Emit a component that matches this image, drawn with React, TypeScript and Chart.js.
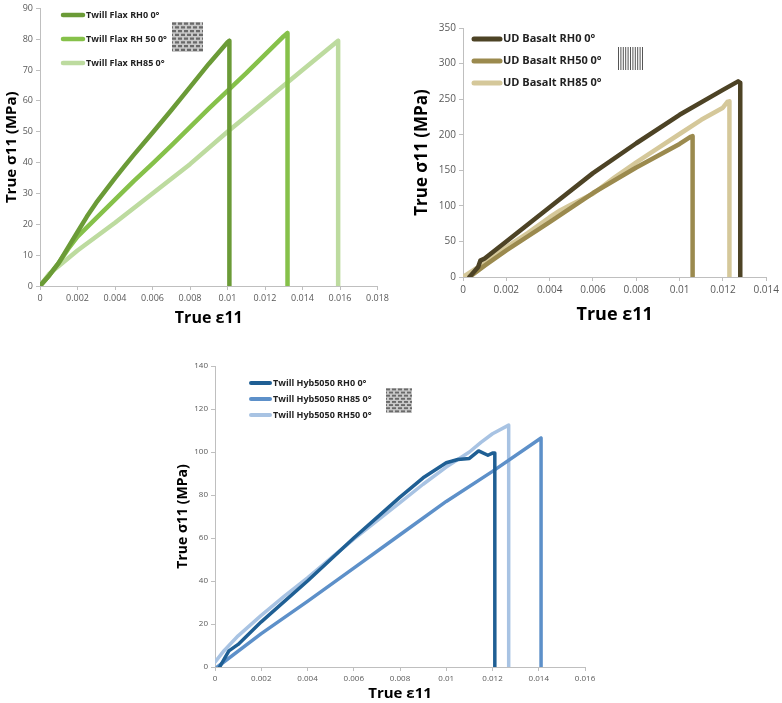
import { useEffect, useRef } from 'react';
import Chart from 'chart.js/auto';

const FONT = '"Open Sans", "Liberation Sans", sans-serif';

// Twill Flax
const flaxRH0Strain = [0, 0.0005, 0.001, 0.0015, 0.002, 0.0025, 0.003, 0.0035, 0.004, 0.0045, 0.005, 0.006, 0.007, 0.008, 0.009, 0.01, 0.0101, 0.0101];
const flaxRH0Stress = [0, 3.5, 7.5, 12.5, 17.5, 22.5, 27, 31, 35, 38.8, 42.5, 49.7, 57, 64.5, 72, 79, 79.5, 0];
const flaxRH50Strain = [0, 0.0005, 0.001, 0.0015, 0.002, 0.003, 0.004, 0.005, 0.006, 0.007, 0.008, 0.009, 0.01, 0.011, 0.012, 0.013, 0.0132, 0.0132];
const flaxRH50Stress = [0, 3.5, 7.5, 12, 16, 22, 28, 34, 39.7, 45.5, 51.5, 57.5, 63.3, 69, 75, 81, 82, 0];
const flaxRH85Strain = [0, 0.0005, 0.001, 0.002, 0.004, 0.006, 0.008, 0.01, 0.012, 0.014, 0.0158, 0.0159, 0.0159];
const flaxRH85Stress = [0, 4, 6.5, 11.5, 20.5, 30, 39.5, 50, 60, 70, 79, 79.5, 0];

// UD Basalt
const basRH0Strain = [0.0003, 0.0007, 0.0008, 0.001, 0.002, 0.004, 0.006, 0.008, 0.01, 0.012, 0.0127, 0.0128, 0.0128];
const basRH0Stress = [0, 14, 23, 26, 50, 98, 146, 188, 228, 263, 275, 273, 0];
const basRH50Strain = [0.0003, 0.001, 0.002, 0.004, 0.006, 0.008, 0.01, 0.0105, 0.0106, 0.0106];
const basRH50Stress = [0, 16, 37.5, 77, 118, 154, 187, 197, 198, 0];
const basRH85Strain = [0, 0.0005, 0.001, 0.002, 0.003, 0.004, 0.0045, 0.005, 0.006, 0.007, 0.008, 0.009, 0.01, 0.011, 0.012, 0.0122, 0.0123, 0.0123];
const basRH85Stress = [0, 10, 20, 42, 62, 84, 94, 102, 117, 140, 161, 181, 201, 221, 238, 246, 247, 0];

// Twill Hyb5050
const hybRH0Strain = [0.0002, 0.0006, 0.001, 0.002, 0.003, 0.004, 0.005, 0.006, 0.007, 0.008, 0.009, 0.0095, 0.01, 0.0105, 0.011, 0.0114, 0.0118, 0.012, 0.0121, 0.0121];
const hybRH0Stress = [0, 7.5, 10.5, 21, 30.5, 40, 50, 60, 69.5, 79, 88, 91.5, 95, 96.5, 97, 100.5, 98.5, 99.5, 99.5, 0];
const hybRH85Strain = [0.0001, 0.002, 0.004, 0.006, 0.008, 0.01, 0.012, 0.0141, 0.0141];
const hybRH85Stress = [0, 15.5, 30.5, 46, 61.5, 77, 91, 106.5, 0];
const hybRH50Strain = [0, 0.0004, 0.001, 0.002, 0.003, 0.004, 0.005, 0.006, 0.007, 0.008, 0.009, 0.01, 0.011, 0.0115, 0.012, 0.0127, 0.0127];
const hybRH50Stress = [2.3, 7.7, 14.5, 24, 33, 41.5, 50.5, 59.5, 68, 76.5, 85, 93, 100, 104.5, 108.5, 112.5, 0];

type Series = { label: string; strain: number[]; stress: number[]; color: string };

type PanelProps = {
  left: number; top: number; width: number; height: number;
  area: { left: number; top: number; right: number; bottom: number };
  xMax: number; xStep: number; yMax: number; yStep: number;
  series: Series[];
  lineWidth: number;
  tickSize: number;
  xTitleSize: number; xTitlePad: number;
  yTitleSize: number; yTitlePad: number;
  legend: { x: number; y: number; dy: number; len: number; size: number; lw: number };
  icon: { x: number; y: number; w: number; h: number; kind: 'twill' | 'ud' };
};

function drawIcon(ctx: CanvasRenderingContext2D, icon: PanelProps['icon']) {
  const { x, y, w, h, kind } = icon;
  ctx.save();
  if (kind === 'ud') {
    ctx.strokeStyle = '#555';
    ctx.lineWidth = 1;
    for (let i = 0; i <= 10; i++) {
      const px = x + (i * w) / 10 + 0.5;
      ctx.beginPath();
      ctx.moveTo(px, y);
      ctx.lineTo(px, y + h);
      ctx.stroke();
    }
  } else {
    ctx.fillStyle = '#c8c8c8';
    ctx.fillRect(x, y, w, h);
    ctx.fillStyle = '#6a6a6a';
    const rows = 8;
    const rh = h / rows;
    for (let r = 0; r < rows; r++) {
      const off = (r % 2) * 3;
      for (let c = -1; c < w / 6; c++) {
        const bx = x + c * 6 + off;
        const x0 = Math.max(x, bx);
        const x1 = Math.min(x + w, bx + 4);
        if (x1 > x0) ctx.fillRect(x0, y + r * rh + 0.5, x1 - x0, rh * 0.6);
      }
    }
  }
  ctx.restore();
}

function Panel(p: PanelProps) {
  const canvasRef = useRef<HTMLCanvasElement>(null);
  const chartRef = useRef<Chart | null>(null);

  useEffect(() => {
    if (!canvasRef.current) return;
    if (chartRef.current) chartRef.current.destroy();

    const fmt = (v: number | string) => String(Number(Number(v).toFixed(4)));

    chartRef.current = new Chart(canvasRef.current, {
      type: 'scatter',
      data: {
        datasets: p.series.map((s) => ({
          label: s.label,
          data: s.strain.map((x, i) => ({ x, y: s.stress[i] })),
          showLine: true,
          borderColor: s.color,
          backgroundColor: s.color,
          borderWidth: p.lineWidth,
          pointRadius: 0,
          borderJoinStyle: 'round' as const,
          borderCapStyle: 'round' as const,
        })),
      },
      options: {
        responsive: true,
        maintainAspectRatio: false,
        animation: false,
        layout: {
          padding: { top: p.area.top, right: p.width - p.area.right, left: 0, bottom: 0 },
        },
        plugins: {
          legend: { display: false },
          tooltip: { enabled: false },
        },
        scales: {
          x: {
            type: 'linear',
            min: 0,
            max: p.xMax,
            afterFit: (s: any) => { s.height = p.height - p.area.bottom; },
            border: { color: '#bfbfbf' },
            grid: { drawOnChartArea: false, color: '#bfbfbf', tickLength: 4 },
            ticks: {
              stepSize: p.xStep,
              autoSkip: false,
              maxRotation: 0,
              padding: 3,
              color: '#595959',
              font: { size: p.tickSize, family: FONT },
              callback: (v) => fmt(v),
            },
            title: {
              display: true,
              text: 'True ε11',
              color: '#000',
              padding: { top: 0, bottom: p.xTitlePad },
              font: { size: p.xTitleSize, weight: 'bold', family: FONT },
            },
          },
          y: {
            type: 'linear',
            min: 0,
            max: p.yMax,
            afterFit: (s: any) => { s.width = p.area.left; },
            border: { color: '#bfbfbf' },
            grid: { drawOnChartArea: false, color: '#bfbfbf', tickLength: 4 },
            ticks: {
              stepSize: p.yStep,
              padding: 3,
              color: '#595959',
              font: { size: p.tickSize, family: FONT },
            },
            title: {
              display: true,
              text: 'True σ11 (MPa)',
              color: '#000',
              padding: { top: p.yTitlePad, bottom: 0 },
              font: { size: p.yTitleSize, weight: 'bold', family: FONT },
            },
          },
        },
      },
      plugins: [
        {
          id: 'insetLegend',
          afterDraw(chart) {
            const ctx = chart.ctx;
            const lg = p.legend;
            ctx.save();
            chart.data.datasets.forEach((ds: any, i: number) => {
              const y = lg.y + i * lg.dy;
              ctx.strokeStyle = ds.borderColor;
              ctx.lineWidth = lg.lw;
              ctx.lineCap = 'round';
              ctx.beginPath();
              ctx.moveTo(lg.x, y);
              ctx.lineTo(lg.x + lg.len, y);
              ctx.stroke();
              ctx.fillStyle = '#222';
              ctx.font = `bold ${lg.size}px ${FONT}`;
              ctx.textBaseline = 'middle';
              ctx.fillText(ds.label, lg.x + lg.len + 3, y);
            });
            ctx.restore();
            drawIcon(ctx, p.icon);
          },
        },
      ],
    });

    return () => {
      if (chartRef.current) {
        chartRef.current.destroy();
        chartRef.current = null;
      }
    };
  }, []);

  return (
    <div style={{ position: 'absolute', left: p.left, top: p.top, width: p.width, height: p.height }}>
      <canvas ref={canvasRef} />
    </div>
  );
}

export default function App() {
  return (
    <div style={{ position: 'absolute', left: 0, top: 0, width: 782, height: 703, background: '#fff', overflow: 'hidden' }}>
      <Panel
        left={0} top={0} width={392} height={332}
        area={{ left: 40, top: 5, right: 378, bottom: 286 }}
        xMax={0.018} xStep={0.002} yMax={90} yStep={10}
        lineWidth={4.5} tickSize={9}
        xTitleSize={16} xTitlePad={4}
        yTitleSize={15} yTitlePad={3}
        legend={{ x: 63, y: 15, dy: 24, len: 20, size: 9, lw: 4.5 }}
        icon={{ x: 172, y: 22, w: 31, h: 30, kind: 'twill' }}
        series={[
          { label: 'Twill Flax RH0 0°', strain: flaxRH0Strain, stress: flaxRH0Stress, color: '#6b9b37' },
          { label: 'Twill Flax RH 50 0°', strain: flaxRH50Strain, stress: flaxRH50Stress, color: '#86c14a' },
          { label: 'Twill Flax RH85 0°', strain: flaxRH85Strain, stress: flaxRH85Stress, color: '#bddb9f' },
        ]}
      />
      <Panel
        left={390} top={0} width={392} height={340}
        area={{ left: 73, top: 28, right: 377, bottom: 277 }}
        xMax={0.014} xStep={0.002} yMax={350} yStep={50}
        lineWidth={4.5} tickSize={10}
        xTitleSize={18} xTitlePad={14}
        yTitleSize={17} yTitlePad={22}
        legend={{ x: 84, y: 39, dy: 22, len: 26, size: 11, lw: 5 }}
        icon={{ x: 228, y: 47, w: 24, h: 23, kind: 'ud' }}
        series={[
          { label: 'UD Basalt RH0 0°', strain: basRH0Strain, stress: basRH0Stress, color: '#4d4325' },
          { label: 'UD Basalt RH50 0°', strain: basRH50Strain, stress: basRH50Stress, color: '#9b8a4e' },
          { label: 'UD Basalt RH85 0°', strain: basRH85Strain, stress: basRH85Stress, color: '#d5c89a' },
        ]}
      />
      <Panel
        left={160} top={355} width={440} height={348}
        area={{ left: 55, top: 11, right: 425, bottom: 312 }}
        xMax={0.016} xStep={0.002} yMax={140} yStep={20}
        lineWidth={3.5} tickSize={8}
        xTitleSize={15} xTitlePad={0}
        yTitleSize={14} yTitlePad={15}
        legend={{ x: 91, y: 28, dy: 16, len: 19, size: 9, lw: 4 }}
        icon={{ x: 226, y: 33, w: 26, h: 25, kind: 'twill' }}
        series={[
          { label: 'Twill Hyb5050 RH0 0°', strain: hybRH0Strain, stress: hybRH0Stress, color: '#1f5f94' },
          { label: 'Twill Hyb5050 RH85 0°', strain: hybRH85Strain, stress: hybRH85Stress, color: '#5d90c9' },
          { label: 'Twill Hyb5050 RH50 0°', strain: hybRH50Strain, stress: hybRH50Stress, color: '#a8c3e3' },
        ]}
      />
    </div>
  );
}
